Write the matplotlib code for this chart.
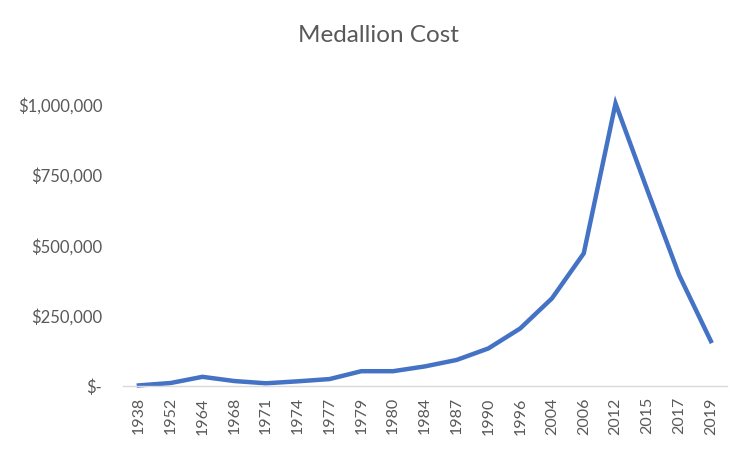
import matplotlib.pyplot as plt
from matplotlib.ticker import FuncFormatter

years = ['1938', '1952', '1964', '1968', '1971', '1974', '1977', '1979', '1980',
         '1984', '1987', '1990', '1996', '2004', '2006', '2012', '2015', '2017', '2019']
cost = [2500, 11000, 33000, 18000, 10000, 17000, 25000, 53000, 53000,
        70000, 93000, 134000, 205000, 312000, 472000, 1005000, 697000, 395000, 160000]
y_ticks = [0, 250000, 500000, 750000, 1000000]

plt.rcParams['font.family'] = ['Lato', 'DejaVu Sans']
grey = '#595959'

fig = plt.figure(figsize=(7.5, 4.5), dpi=100)
ax = fig.add_axes([0.164, 0.142, 0.805, 0.625])

x = range(len(years))
ax.plot(x, cost, color='#4472C4', linewidth=3.2, solid_joinstyle='miter', clip_on=False)

ax.set_xlim(-0.5, len(years) - 0.5)
ax.set_ylim(0, 1000000)
ax.set_xticks(list(x))
ax.set_xticklabels(years, rotation=90, fontsize=11.5, color=grey)
ax.set_yticks(y_ticks)


def money(v, pos):
    if v == 0:
        return '$-'
    return '${:,.0f}'.format(v)


ax.yaxis.set_major_formatter(FuncFormatter(money))
ax.tick_params(axis='y', labelsize=12, colors=grey, length=0, pad=15)
ax.tick_params(axis='x', length=0, pad=8)

for side in ['top', 'right', 'left']:
    ax.spines[side].set_visible(False)
ax.spines['bottom'].set_color('#d9d9d9')
ax.spines['bottom'].set_linewidth(1)

fig.suptitle('Medallion Cost', x=0.504, y=0.922, va='center', fontsize=17.5, color=grey)

fig.savefig('out.png', dpi=100)
